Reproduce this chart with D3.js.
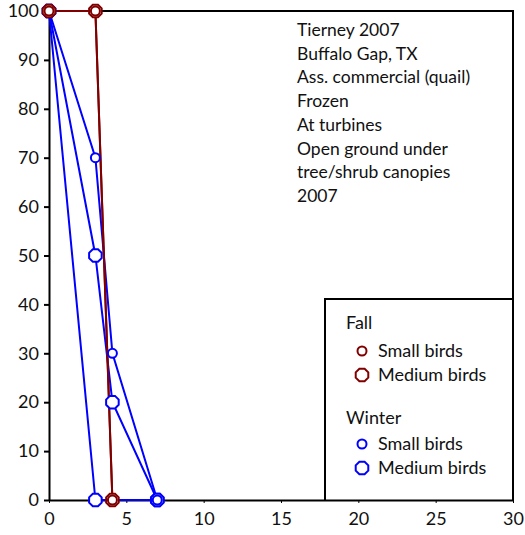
<!DOCTYPE html>
<html>
<head>
<meta charset="utf-8">
<script src="https://cdn.jsdelivr.net/npm/d3@7"></script>
<style>
  body { margin: 0; background: #fff; }
  svg text { font-family: Lato, "Open Sans", sans-serif; fill: #111; }
</style>
</head>
<body>
<div id="chart"></div>
<script>
// values
const xTicks = [0, 5, 10, 15, 20, 25, 30];
const yTicks = [0, 10, 20, 30, 40, 50, 60, 70, 80, 90, 100];

const fallSmallX = [0, 3, 4.1];
const fallSmallY = [100, 100, 0];
const fallMediumX = [0, 3, 4.1];
const fallMediumY = [100, 100, 0];

const winterSmallX = [0, 3, 4.1, 7];
const winterSmallY = [100, 70, 30, 0];
const winterMediumX = [0, 3, 4.1, 7];
const winterMediumY = [100, 50, 20, 0];
const winterMediumBX = [0, 3, 7];
const winterMediumBY = [100, 0, 0];

const noteLines = ["Tierney 2007", "Buffalo Gap, TX", "Ass. commercial (quail)", "Frozen",
  "At turbines", "Open ground under", "tree/shrub canopies", "2007"];

const RED = "#800000";
const BLUE = "#0000ff";

const w = 525, h = 535;
const mg = { left: 49, right: 12, top: 11, bottom: 35 };

const svg = d3.select("#chart").append("svg")
  .attr("width", w)
  .attr("height", h);

const x = d3.scaleLinear().domain([0, 30]).range([mg.left, w - mg.right]);
const y = d3.scaleLinear().domain([0, 100]).range([h - mg.bottom, mg.top]);

// frame (top + right)
svg.append("path")
  .attr("d", `M${x(0)},${y(100)}H${x(30)}V${y(0)}`)
  .attr("fill", "none")
  .attr("stroke", "#000")
  .attr("stroke-width", 2);

// axes
const xAxis = svg.append("g")
  .attr("transform", `translate(0,${y(0)})`)
  .call(d3.axisBottom(x).tickValues(xTicks).tickSize(3).tickSizeOuter(0));
xAxis.select(".domain").attr("stroke-width", 2);
xAxis.selectAll("text").attr("font-size", 18).attr("dy", "1.05em");

const yAxis = svg.append("g")
  .attr("transform", `translate(${x(0)},0)`)
  .call(d3.axisLeft(y).tickValues(yTicks).tickSize(5).tickSizeOuter(0).tickPadding(5));
yAxis.select(".domain").attr("stroke-width", 2);
yAxis.selectAll(".tick line").attr("stroke-width", 2);
yAxis.selectAll("text").attr("font-size", 18);

// note text
svg.append("g").selectAll("text")
  .data(noteLines)
  .enter().append("text")
  .attr("x", 297)
  .attr("y", (d, i) => 36 + i * 23.7)
  .attr("font-size", 17.5)
  .text(d => d);

// legend box
const lg = { x0: 325, y0: 299 };
svg.append("path")
  .attr("d", `M${lg.x0},${y(0)}V${lg.y0}H${x(30)}`)
  .attr("fill", "none")
  .attr("stroke", "#000")
  .attr("stroke-width", 2);

const octagon = (r) => {
  const pts = d3.range(8).map(i => {
    const a = Math.PI / 8 + i * Math.PI / 4;
    return [r * Math.cos(a), r * Math.sin(a)];
  });
  return "M" + pts.join("L") + "Z";
};

function drawMarker(g, kind, color, cx, cy) {
  if (kind === "small") {
    g.append("circle")
      .attr("cx", cx).attr("cy", cy).attr("r", 4.5)
      .attr("fill", "#fff").attr("stroke", color).attr("stroke-width", 2);
  } else {
    g.append("path")
      .attr("d", octagon(6.8))
      .attr("transform", `translate(${cx},${cy})`)
      .attr("fill", "#fff").attr("stroke", color).attr("stroke-width", 2);
  }
}

const series = [
  { xs: winterMediumBX, ys: winterMediumBY, color: BLUE, kind: "medium" },
  { xs: winterMediumX, ys: winterMediumY, color: BLUE, kind: "medium" },
  { xs: winterSmallX, ys: winterSmallY, color: BLUE, kind: "small" },
  { xs: fallMediumX, ys: fallMediumY, color: RED, kind: "medium" },
  { xs: fallSmallX, ys: fallSmallY, color: RED, kind: "small" }
];

const line = d3.line().x(d => x(d[0])).y(d => y(d[1]));
const plot = svg.append("g");

series.forEach(s => {
  const pts = s.xs.map((v, i) => [v, s.ys[i]]);
  plot.append("path")
    .attr("d", line(pts))
    .attr("fill", "none")
    .attr("stroke", s.color)
    .attr("stroke-width", 2);
});
series.forEach(s => {
  s.xs.forEach((v, i) => drawMarker(plot, s.kind, s.color, x(v), y(s.ys[i])));
});

// legend entries
const legendItems = [
  { label: "Fall", head: true, y: 323 },
  { label: "Small birds", kind: "small", color: RED, y: 351 },
  { label: "Medium birds", kind: "medium", color: RED, y: 375 },
  { label: "Winter", head: true, y: 418 },
  { label: "Small birds", kind: "small", color: BLUE, y: 444 },
  { label: "Medium birds", kind: "medium", color: BLUE, y: 468 }
];
const lgG = svg.append("g");
legendItems.forEach(it => {
  if (it.head) {
    lgG.append("text").attr("x", 346).attr("y", it.y).attr("dy", "0.35em")
      .attr("font-size", 18).text(it.label);
  } else {
    drawMarker(lgG, it.kind, it.color, 362, it.y);
    lgG.append("text").attr("x", 378).attr("y", it.y).attr("dy", "0.35em")
      .attr("font-size", 18).text(it.label);
  }
});
</script>
</body>
</html>
